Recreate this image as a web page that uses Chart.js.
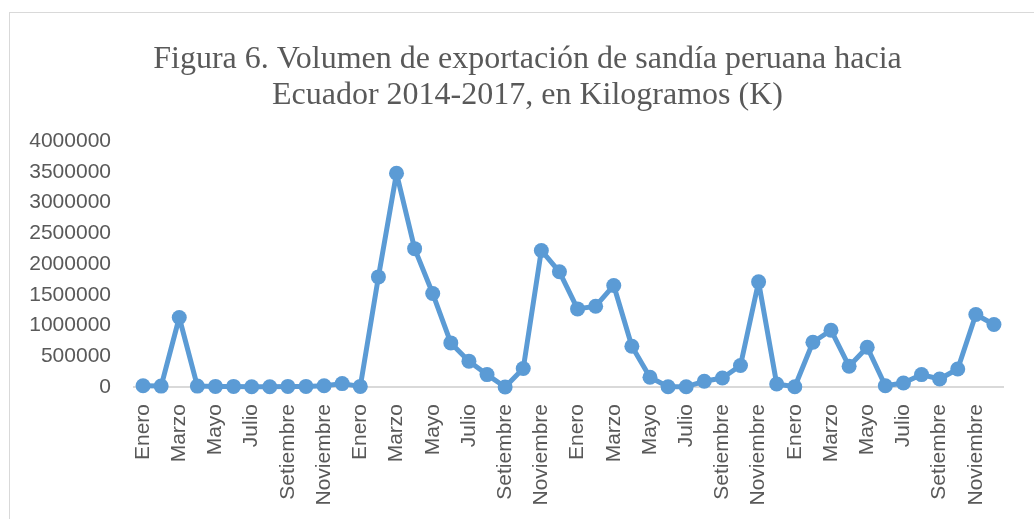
<!DOCTYPE html>
<html lang="es">
<head>
  <meta charset="UTF-8">
  <title>Figura 6 - Volumen de exportación de sandía</title>
  <script src="https://cdn.jsdelivr.net/npm/chart.js"></script>
  <style>
    html, body { margin: 0; padding: 0; background: #fff; overflow: hidden; }
    .frame {
      position: absolute; left: 9px; top: 12px;
      width: 1035px; height: 520px;
      border: 1px solid #d9d9d9; background: #fff;
    }
    canvas { display: block; }
  </style>
</head>
<body>
  <div class="frame">
    <canvas id="exportChart" width="1035" height="520"></canvas>
  </div>

  <script>
    // months, years and monthly volume (kg)
    const months = ['Enero', 'Febrero', 'Marzo', 'Abril', 'Mayo', 'Junio', 'Julio',
                    'Agosto', 'Setiembre', 'Octubre', 'Noviembre', 'Diciembre'];
    const years = [2014, 2015, 2016, 2017];
    const volume2014 = [20000, 15000, 1130000, 15000, 10000, 10000, 5000, 5000, 10000, 10000, 20000, 55000];
    const volume2015 = [10000, 1790000, 3475000, 2250000, 1520000, 717000, 420000, 202000, 0, 300000, 2220000, 1873000];
    const volume2016 = [1270000, 1314000, 1651000, 663000, 158000, 5000, 5000, 93000, 147000, 349000, 1710000, 49000];
    const volume2017 = [5000, 728000, 923000, 337000, 647000, 20000, 65000, 202000, 130000, 293000, 1179000, 1016000];
    const yTicks = [0, 500000, 1000000, 1500000, 2000000, 2500000, 3000000, 3500000, 4000000];

    const labels = years.flatMap(() => months);
    const values = [...volume2014, ...volume2015, ...volume2016, ...volume2017];

    const grey = '#595959';
    const blue = '#5B9BD5';

    new Chart(document.getElementById('exportChart'), {
      type: 'line',
      data: {
        labels: labels,
        datasets: [{
          data: values,
          borderColor: blue,
          backgroundColor: blue,
          borderWidth: 5,
          borderJoinStyle: 'round',
          borderCapStyle: 'round',
          pointRadius: 7.5,
          pointBorderWidth: 0,
          pointBackgroundColor: blue,
          tension: 0,
          clip: false
        }]
      },
      options: {
        responsive: false,
        animation: false,
        layout: { padding: { left: 0, right: 0, bottom: 17 } },
        plugins: {
          legend: { display: false },
          tooltip: { enabled: false },
          title: {
            display: true,
            text: ['Figura 6. Volumen de exportación de sandía peruana hacia',
                   'Ecuador 2014-2017, en Kilogramos (K)'],
            color: grey,
            font: { family: 'Liberation Serif', size: 32, weight: 'normal', lineHeight: 1.125 },
            padding: { top: 29, bottom: 27 }
          }
        },
        scales: {
          x: {
            offset: true,
            grid: { display: false, drawTicks: false },
            border: { display: true, color: '#d9d9d9', width: 2 },
            ticks: {
              color: grey,
              font: { family: 'Liberation Sans', size: 21 },
              autoSkip: false,
              minRotation: 90,
              maxRotation: 90,
              padding: 17,
              callback: function (value, index) {
                return index % 2 === 0 ? labels[index] : '';
              }
            },
            afterFit: function (scale) { scale.height = 129; }
          },
          y: {
            min: 0,
            max: 4000000,
            grid: { display: false, drawTicks: false },
            border: { display: false },
            afterBuildTicks: function (scale) {
              scale.ticks = yTicks.map(v => ({ value: v }));
            },
            ticks: {
              color: grey,
              font: { family: 'Liberation Sans', size: 21 },
              padding: 23,
              callback: function (value) { return String(value); }
            },
            afterFit: function (scale) { scale.width = 124; }
          },
          // empty right-hand gutter so the title stays centred on the whole frame
          gutter: {
            type: 'linear',
            position: 'right',
            display: true,
            grid: { display: false, drawTicks: false },
            border: { display: false },
            ticks: { display: false },
            afterFit: function (scale) { scale.width = 42; }
          }
        }
      }
    });
  </script>
</body>
</html>
